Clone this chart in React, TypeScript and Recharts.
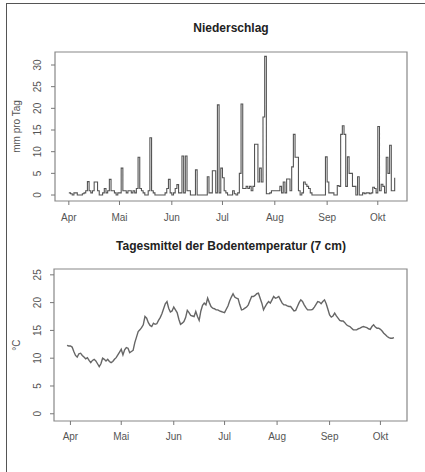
import { LineChart, Line, XAxis, YAxis, ReferenceArea } from "recharts";

// month ticks (day index 0 = 1. April)
const monthLabels = ["Apr", "Mai", "Jun", "Jul", "Aug", "Sep", "Okt"];
const monthStartDays = [0, 30, 61, 91, 122, 153, 183];

const precipTicks = [0, 5, 10, 15, 20, 25, 30];
const tempTicks = [0, 5, 10, 15, 20, 25];

// Niederschlag, mm pro Tag, starting 1. April
const precipStartDay = 0;
const precipitation = [
  // Apr
  0.5, 0.3, 0, 0.5, 0.5, 0, 0, 0, 0.3, 0.5,
  1, 3.1, 1, 0.5, 1, 3, 3, 1, 0, 0,
  0.5, 1.5, 0.5, 1, 3.6, 1, 1, 0.5, 0, 0.5,
  // Mai
  0.5, 6.2, 1, 1, 0.5, 1, 1, 0.5, 1, 0.5,
  1.5, 8.7, 1.5, 1, 0.5, 0, 0, 1, 13.2, 1,
  0.5, 0, 0, 0, 0, 0, 0, 0.5, 1.5, 3.6,
  0.5,
  // Jun
  0, 0.5, 1.5, 2.4, 0.5, 0.5, 9, 0.5, 9, 1,
  1, 0, 0, 0, 5.8, 0, 0, 0, 0, 0,
  0, 4.2, 0.5, 0.5, 5.6, 5.6, 0.5, 20.8, 0.5, 6.2,
  // Jul
  4, 1, 0.5, 0, 0, 0, 1, 0.3, 0, 0.5,
  5, 21, 1.5, 1.5, 2, 1.5, 2, 1, 2, 11.7,
  11.7, 3, 6.2, 3, 18, 32, 0.3, 0.3, 0.5, 1,
  1,
  // Aug
  1, 1, 1, 2, 0.5, 3, 0.5, 3.7, 3.7, 1,
  6.5, 14, 8.7, 8.7, 1, 0, 0.5, 3, 2.5, 2,
  1.5, 0.5, 0, 0, 0, 0, 0, 0, 0, 0,
  8.8,
  // Sep
  3, 0.5, 0.5, 0.5, 0, 0, 2.2, 2, 14, 16,
  14, 2, 8.8, 5, 5, 2, 2, 0, 4.2, 0,
  0, 0.5, 0.3, 0.5, 0.5, 0.3, 0.5, 1.8, 1.5, 0.5,
  // Okt
  15.8, 1, 2.5, 2, 0.5, 8.7, 5, 11.5, 1, 1, 4,
];

// Tagesmittel Bodentemperatur 7 cm, °C, starting 30. März
const tempStartDay = -2;
const soilTemp = [
  12.3, 12.2,
  12.2, 12.0, 11.2, 10.5, 10.2, 10.8, 10.9, 10.5, 10.2, 9.9,
  10.1, 9.6, 9.2, 9.6, 9.8, 9.5, 9.0, 8.5, 9.0, 10.0,
  9.8, 9.5, 9.8, 9.4, 9.2, 9.4, 9.8, 10.1, 10.6, 11.1,
  11.6, 10.6, 11.5, 11.9, 11.8, 11.0, 11.2, 11.4, 12.8, 13.8,
  14.8, 15.1, 15.5, 16.0, 17.5, 17.2, 16.4, 15.9, 15.7, 16.3,
  16.1, 16.2, 16.8, 17.3, 18.0, 18.9, 19.8, 20.2, 19.0, 18.3,
  18.5, 19.2, 18.7, 18.2, 17.0, 16.1, 16.3, 16.6, 17.3, 18.6,
  18.2, 17.7, 17.6, 17.5, 18.4, 17.5, 16.8, 18.5, 19.5, 19.9,
  19.6, 20.8, 20.0, 19.3, 19.0, 18.9, 18.7, 18.7, 18.5, 18.4,
  18.3, 18.2, 18.8, 19.4, 20.3, 21.0, 21.6, 21.0, 20.8, 20.7,
  19.6, 18.7, 18.8, 19.0, 19.2, 19.6, 20.4, 21.1, 21.1, 21.3,
  21.6, 21.7, 20.8, 19.9, 18.7, 19.3, 19.8, 20.2, 19.9, 20.5,
  21.1, 20.8, 20.9, 21.1, 20.5, 19.9, 19.6, 19.6, 19.4, 19.3,
  19.3, 18.9, 18.5, 18.6, 19.3, 20.0, 20.5, 20.2, 19.6, 19.1,
  18.7, 18.7, 18.7, 18.8, 19.2, 19.7, 20.2, 20.1, 19.8, 20.2,
  20.5, 19.8, 18.8, 17.8, 17.4, 17.6, 18.1, 17.6, 17.2, 16.8,
  16.7, 16.7, 16.4, 16.0, 15.8, 15.7, 15.4, 15.1, 15.1, 15.1,
  15.3, 15.4, 15.6, 15.7, 15.6, 15.5, 15.3, 15.2, 15.7, 16.0,
  15.6, 15.4, 15.4, 15.2, 14.9, 14.5, 14.2, 13.9, 13.7, 13.6,
  13.6, 13.7,
];

const precipRows = precipitation.map((v, i) => ({ day: precipStartDay + i, mm: v }));
const tempRows = soilTemp.map((v, i) => ({ day: tempStartDay + i, temp: v }));

const font = "'Liberation Sans', Arial, sans-serif";
const monthName = (d: number) => monthLabels[monthStartDays.indexOf(d)] ?? "";

// R draws y labels parallel to the axis
function RotatedTick(props: any) {
  const { x, y, payload } = props;
  return (
    <text
      x={x}
      y={y}
      transform={`rotate(-90 ${x} ${y})`}
      textAnchor="middle"
      fontSize={10}
      fontFamily={font}
      fill="#555"
    >
      {payload.value}
    </text>
  );
}

function axisTitle(text: string, fallbackY: number) {
  return (p: any) => {
    const vb = p.viewBox;
    const cy = vb && vb.height ? vb.y + vb.height / 2 : fallbackY;
    return (
      <text
        x={20}
        y={cy}
        transform={`rotate(-90 20 ${cy})`}
        textAnchor="middle"
        fontSize={10}
        fontFamily={font}
        fill="#555"
      >
        {text}
      </text>
    );
  };
}

const titleStyle: React.CSSProperties = {
  position: "absolute",
  left: 55,
  width: 352,
  textAlign: "center",
  fontFamily: font,
  fontWeight: "bold",
  fontSize: 12,
  lineHeight: "14px",
  color: "#222",
};

export default function App() {
  const pXDomain = [-8.2, 200.3];
  const pYDomain = [-1.38, 33];
  const tXDomain = [-9.7, 198.7];
  const tYDomain = [-1.3, 26.05];

  return (
    <div
      style={{
        position: "fixed",
        left: 0,
        top: 0,
        width: 425,
        height: 472,
        background: "#fff",
        overflow: "hidden",
      }}
    >
      <div
        style={{
          position: "absolute",
          left: 6,
          top: 3,
          width: 440,
          height: 480,
          borderLeft: "1.5px solid #555",
          borderTop: "1.5px solid #555",
        }}
      />

      <div style={{ ...titleStyle, top: 21 }}>Niederschlag</div>
      <LineChart
        width={425}
        height={236}
        data={precipRows}
        margin={{ top: 52, right: 18, bottom: 5, left: 10 }}
        style={{ position: "absolute", left: 0, top: 0 }}
      >
        <XAxis
          dataKey="day"
          type="number"
          domain={pXDomain}
          allowDataOverflow
          ticks={monthStartDays}
          tickFormatter={monthName}
          interval={0}
          height={30}
          axisLine={false}
          tickSize={4}
          tickMargin={9}
          tickLine={{ stroke: "#777" }}
          tick={{ fontSize: 10, fill: "#555", fontFamily: font }}
        />
        <YAxis
          type="number"
          domain={pYDomain}
          allowDataOverflow
          ticks={precipTicks}
          interval={0}
          width={45}
          axisLine={false}
          tickSize={4}
          tickMargin={10}
          tickLine={{ stroke: "#777" }}
          tick={RotatedTick}
          label={{ content: axisTitle("mm pro Tag", 126) }}
        />
        <ReferenceArea
          x1={pXDomain[0]}
          x2={pXDomain[1]}
          y1={pYDomain[0]}
          y2={pYDomain[1]}
          fill="none"
          stroke="#888"
          strokeWidth={1.2}
          ifOverflow="visible"
        />
        <Line
          type="stepAfter"
          dataKey="mm"
          stroke="#555"
          strokeWidth={1.1}
          dot={false}
          isAnimationActive={false}
        />
      </LineChart>

      <div style={{ ...titleStyle, top: 239 }}>Tagesmittel der Bodentemperatur (7 cm)</div>
      <LineChart
        width={425}
        height={236}
        data={tempRows}
        margin={{ top: 33, right: 18, bottom: 21, left: 9 }}
        style={{ position: "absolute", left: 0, top: 236 }}
      >
        <XAxis
          dataKey="day"
          type="number"
          domain={tXDomain}
          allowDataOverflow
          ticks={monthStartDays}
          tickFormatter={monthName}
          interval={0}
          height={30}
          axisLine={false}
          tickSize={4}
          tickMargin={8}
          tickLine={{ stroke: "#777" }}
          tick={{ fontSize: 10, fill: "#555", fontFamily: font }}
        />
        <YAxis
          type="number"
          domain={tYDomain}
          allowDataOverflow
          ticks={tempTicks}
          interval={0}
          width={45}
          axisLine={false}
          tickSize={4}
          tickMargin={9}
          tickLine={{ stroke: "#777" }}
          tick={RotatedTick}
          label={{ content: axisTitle("°C", 109) }}
        />
        <ReferenceArea
          x1={tXDomain[0]}
          x2={tXDomain[1]}
          y1={tYDomain[0]}
          y2={tYDomain[1]}
          fill="none"
          stroke="#888"
          strokeWidth={1.2}
          ifOverflow="visible"
        />
        <Line
          type="linear"
          dataKey="temp"
          stroke="#666"
          strokeWidth={1.4}
          dot={false}
          isAnimationActive={false}
        />
      </LineChart>
    </div>
  );
}
